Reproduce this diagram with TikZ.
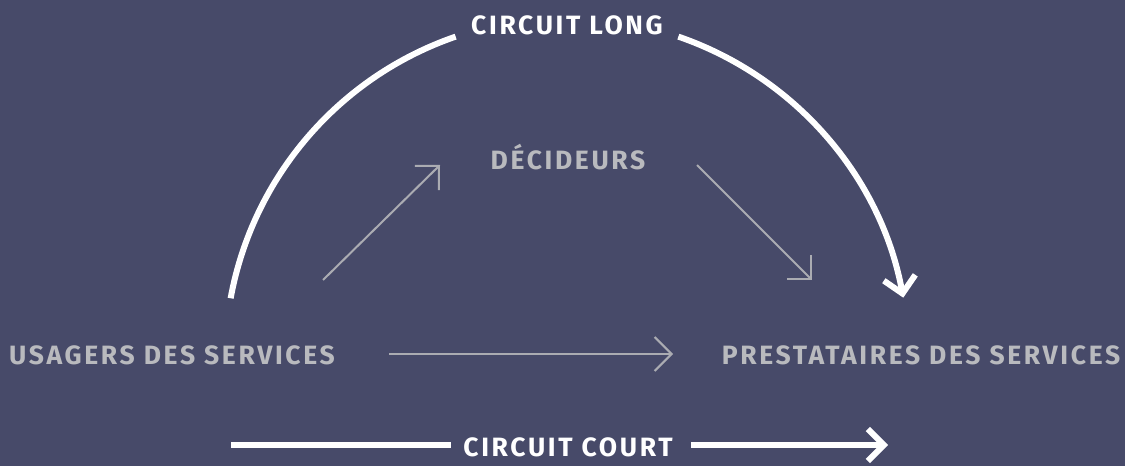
\documentclass[tikz,border=0pt]{standalone}
\usepackage{fontspec}
\setmainfont{Fira Sans}[LetterSpace=10]
\usetikzlibrary{arrows.meta,calc}
\definecolor{bgnavy}{HTML}{474A69}
\definecolor{softgray}{HTML}{B9BABE}
\definecolor{linegray}{HTML}{ABACB2}
\begin{document}
\begin{tikzpicture}[x=1pt,y=1pt,
  lbl/.style={font=\fontsize{26.5}{27}\selectfont\bfseries, inner sep=0pt, anchor=center},
  actor/.style={lbl, text=softgray},
  circuit/.style={lbl, text=white},
  thinflow/.style={draw=linegray, line width=2pt, -{Straight Barb[length=17pt, width=34pt, sharp]}},
  thickflow/.style={draw=white, line width=6pt},
  thicktip/.style={thickflow, -{Straight Barb[length=16pt, width=32pt, sharp]}}]
  % canvas
  \useasboundingbox (0,0) rectangle (1125,466);
  \fill[bgnavy] (0,0) rectangle (1125,466);

  % actors
  \node[actor] (usagers) at (172,111) {USAGERS DES SERVICES};
  \node[actor] (prest) at (921,111) {PRESTATAIRES DES SERVICES};
  \node[actor] (decid) at (568,309) {DÉCIDEURS};

  % circuit labels
  \node[circuit] (long) at (567,441) {CIRCUIT LONG};
  \node[circuit, inner xsep=12pt] (court) at (568,19) {CIRCUIT COURT};

  % long circuit arc, interrupted by its label
  \coordinate (arcc) at (567,106);
  \coordinate (longA) at ($(arcc)+(169.6:342)$);
  \coordinate (longB) at ($(arcc)+(71:342)$);
  \draw[thickflow] (longA) arc[start angle=169.6, end angle=109, radius=342];
  \draw[thicktip] (longB) arc[start angle=71, end angle=10.5, radius=342];

  % short circuit line, interrupted by its label
  \coordinate (courtA) at (231,21);
  \coordinate (courtB) at (888,21);
  \draw[thickflow] (courtA) -- (courtA -| court.west);
  \draw[thicktip] (courtB -| court.east) ++(6,0) -- (courtB);

  % thin flows between actors
  \coordinate (upA) at (323,186);
  \coordinate (upB) at (440,301);
  \coordinate (downA) at (697,301);
  \coordinate (downB) at (812,186);
  \coordinate (sideA) at (389,112);
  \coordinate (sideB) at (673,112);
  \draw[thinflow] (upA) -- (upB);
  \draw[thinflow] (downA) -- (downB);
  \draw[thinflow] (sideA) -- (sideB);
\end{tikzpicture}
\end{document}
